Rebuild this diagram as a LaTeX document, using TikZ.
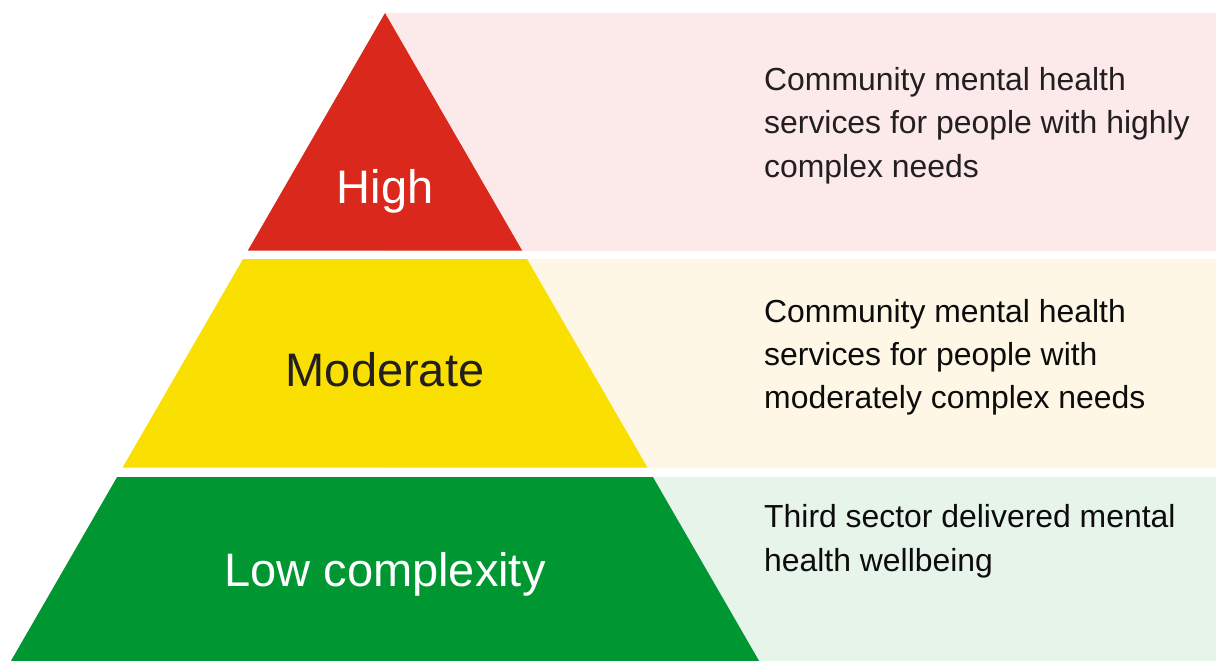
\documentclass[tikz,border=0pt]{standalone}
\usepackage{fontspec}
\setmainfont{Liberation Sans}
\definecolor{tierred}{RGB}{218,41,28}
\definecolor{tieryellow}{RGB}{250,224,0}
\definecolor{tiergreen}{RGB}{0,150,50}
\definecolor{bandpink}{RGB}{252,233,233}
\definecolor{bandcream}{RGB}{254,247,230}
\definecolor{bandgreen}{RGB}{230,244,234}
\definecolor{inkgray}{RGB}{35,31,32}
\definecolor{inkblack}{RGB}{12,12,12}
\begin{document}
\begin{tikzpicture}[x=1pt,y=-1pt,
  tierlabel/.style={inner sep=0pt,anchor=base,font=\fontsize{47}{50}\selectfont},
  desc/.style={inner sep=0pt,anchor=base west,align=left,font=\fontsize{31.9}{43.2}\selectfont}]
\useasboundingbox (0,0) rectangle (1216,661);
% apex of the pyramid and the slope of its equilateral sides
\def\ax{385}\def\ay{13}\def\tn{0.57735}
% background bands to the right
\fill[bandpink]  (\ax,\ay) rectangle (1216,250.5);
\fill[bandcream] (\ax,259) rectangle (1216,467.5);
\fill[bandgreen] (\ax,477) rectangle (1216,661);
% pyramid tiers
\fill[tierred] (\ax,\ay) -- ({\ax+(250.5-\ay)*\tn},250.5) -- ({\ax-(250.5-\ay)*\tn},250.5) -- cycle;
\fill[tieryellow] ({\ax-(259-\ay)*\tn},259) -- ({\ax+(259-\ay)*\tn},259)
  -- ({\ax+(467.5-\ay)*\tn},467.5) -- ({\ax-(467.5-\ay)*\tn},467.5) -- cycle;
\fill[tiergreen] ({\ax-(477-\ay)*\tn},477) -- ({\ax+(477-\ay)*\tn},477)
  -- ({\ax+(661-\ay)*\tn},661) -- ({\ax-(661-\ay)*\tn},661) -- cycle;
% tier labels
\node[tierlabel,text=white] (high) at (\ax,203.5) {High};
\node[tierlabel,text=inkgray] (moderate) at (\ax,386) {Moderate};
\node[tierlabel,text=white] (low) at (\ax,586.5) {Low complexity};
% descriptions (anchored on the baseline of their last line)
\node[desc,text=inkgray] (highdesc) at (764,177)
  {Community mental health\\services for people with highly\\complex needs};
\node[desc,text=inkblack] (moddesc) at (764,408.5)
  {Community mental health\\services for people with\\moderately complex needs};
\node[desc,text=inkblack] (lowdesc) at (764,571)
  {Third sector delivered mental\\health wellbeing};
\end{tikzpicture}
\end{document}
